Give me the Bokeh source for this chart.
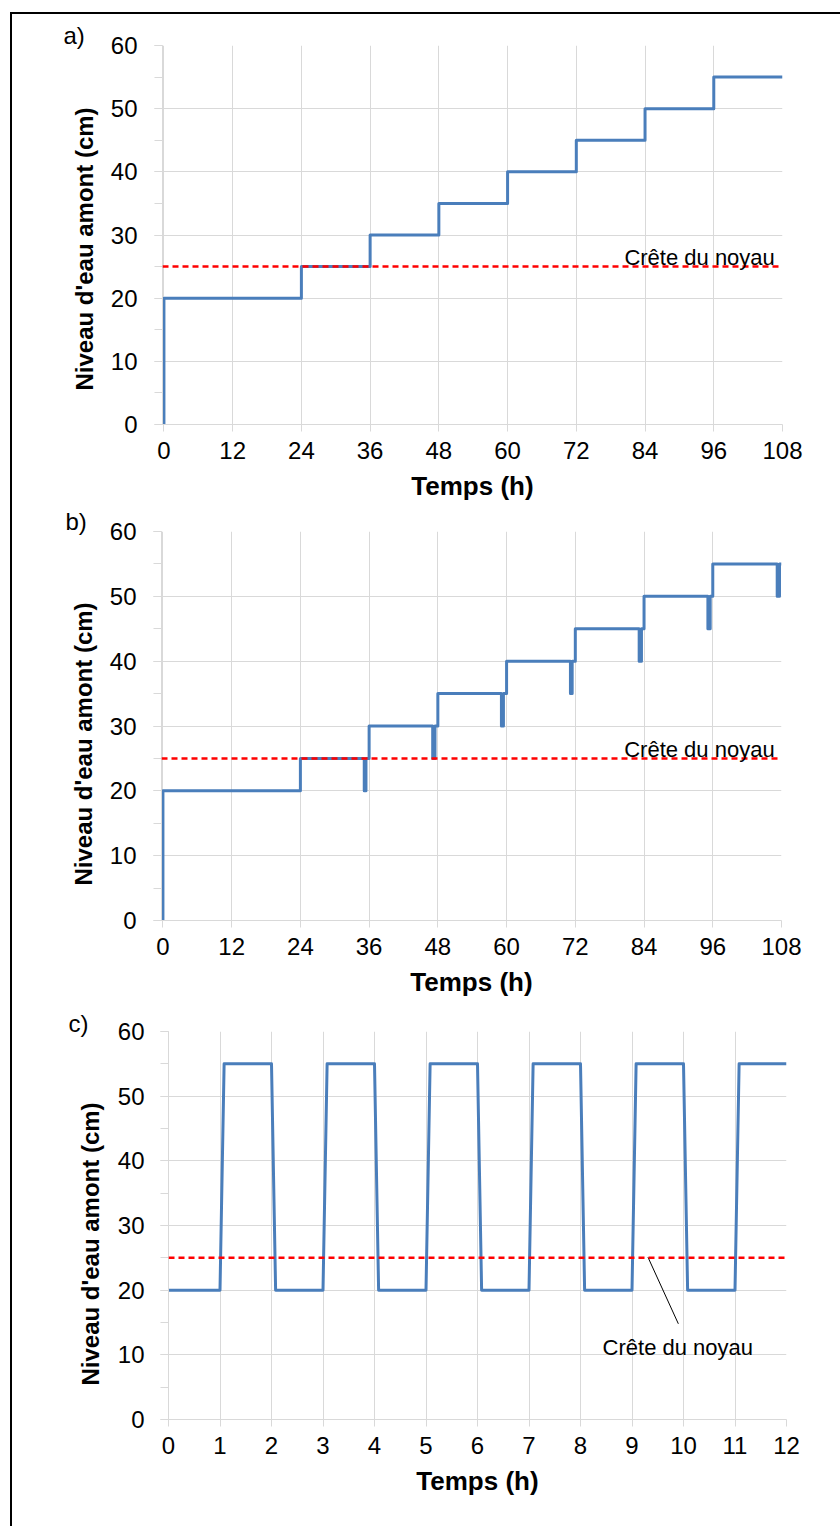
from bokeh.plotting import figure
from bokeh.models import Range1d, SingleIntervalTicker, Label, Span, Title
from bokeh.layouts import column
from bokeh.embed import file_html
from bokeh.resources import INLINE

# a) staged filling of the upstream reservoir
time_a = [0, 0, 24, 24, 36, 36, 48, 48, 60, 60, 72, 72, 84, 84, 96, 96, 108]
level_a = [0, 20, 20, 25, 25, 30, 30, 35, 35, 40, 40, 45, 45, 50, 50, 55, 55]

# b) staged filling with a rapid drawdown before each new stage
time_b = [0, 0, 24, 24,
          35.15, 35.15, 35.45, 35.45, 36, 36,
          47.1, 47.1, 47.5, 47.5, 48, 48,
          59.1, 59.1, 59.45, 59.45, 60, 60,
          71.15, 71.15, 71.45, 71.45, 72, 72,
          83.15, 83.15, 83.55, 83.55, 84, 84,
          95.15, 95.15, 95.55, 95.55, 96, 96,
          107.25, 107.25, 107.65, 107.65, 108]
level_b = [0, 20, 20, 25,
           25, 20, 20, 25, 25, 30,
           30, 25, 25, 30, 30, 35,
           35, 30, 30, 35, 35, 40,
           40, 35, 35, 40, 40, 45,
           45, 40, 40, 45, 45, 50,
           50, 45, 45, 50, 50, 55,
           55, 50, 50, 55, 55]

# c) cyclic loading between 20 and 55 cm
time_c = [0, 1, 1.08, 2, 2.08, 3, 3.08, 4, 4.08, 5, 5.08, 6, 6.08,
          7, 7.08, 8, 8.08, 9, 9.08, 10, 10.08, 11, 11.08, 12]
level_c = [20, 20, 55, 55, 20, 20, 55, 55, 20, 20, 55, 55, 20,
           20, 55, 55, 20, 20, 55, 55, 20, 20, 55, 55]

crest_level = 25
crest_text = "Crête du noyau"
y_title = "Niveau d'eau amont (cm)"
x_title = "Temps (h)"

BLUE = "#4a7ebb"
RED = "#ff0000"
GRID = "#d9d9d9"
FONT = "Liberation Sans"


def make_panel(height, left, right, top, bottom, x_start, x_end, x_step,
               ylab_standoff, ytitle_standoff, ytitle_offset,
               letter, letter_offset, letter_standoff):
    p = figure(width=828, height=height,
               x_range=Range1d(x_start, x_end), y_range=Range1d(0, 60),
               min_border_left=left, min_border_right=right,
               min_border_top=top, min_border_bottom=bottom,
               output_backend="svg", toolbar_location=None, tools="")
    p.frame_align = False
    p.outline_line_color = None
    p.background_fill_color = "white"
    p.border_fill_color = "white"

    xt = SingleIntervalTicker(interval=x_step, num_minor_ticks=0)
    yt = SingleIntervalTicker(interval=10, num_minor_ticks=2)
    p.xaxis.ticker = xt
    p.xgrid.ticker = xt
    p.yaxis.ticker = yt
    p.ygrid.ticker = yt
    p.grid.grid_line_color = GRID
    p.grid.grid_line_width = 1

    for ax in p.axis:
        ax.axis_line_color = GRID
        ax.major_tick_line_color = GRID
        ax.minor_tick_line_color = GRID
        ax.major_tick_in = 0
        ax.minor_tick_in = 0
        ax.major_label_text_font = FONT
        ax.major_label_text_font_size = "24px"
        ax.major_label_text_color = "black"
        ax.axis_label_text_font = FONT
        ax.axis_label_text_font_size = "26px"
        ax.axis_label_text_font_style = "bold"
        ax.axis_label_text_color = "black"

    p.xaxis.major_tick_out = 7
    p.xaxis.minor_tick_out = 0
    p.xaxis.major_label_standoff = 10
    p.xaxis.axis_label = x_title
    p.xaxis.axis_label_standoff = 9

    p.yaxis.major_tick_out = 8
    p.yaxis.minor_tick_out = 8
    p.yaxis.major_label_standoff = ylab_standoff

    # vertical axis title, starting a fixed distance above the plot bottom
    p.add_layout(Title(text=y_title, align="left", offset=ytitle_offset,
                       standoff=ytitle_standoff, text_font=FONT,
                       text_font_size="24px", text_font_style="bold",
                       text_color="black"), "left")

    # panel letter
    p.title.text = letter
    p.title.align = "left"
    p.title.offset = letter_offset
    p.title.standoff = letter_standoff
    p.title.text_font = FONT
    p.title.text_font_size = "24px"
    p.title.text_font_style = "normal"
    p.title.text_color = "black"
    return p


def add_crest(p):
    p.add_layout(Span(location=crest_level, dimension="width",
                      line_color=RED, line_width=2.5, line_dash="6 4"))


def add_crest_text(p, x, y, align):
    p.add_layout(Label(x=x, y=y, text=crest_text, text_font=FONT,
                       text_font_size="22px", text_color="black",
                       text_baseline="alphabetic", text_align=align))


# panel a
pa = make_panel(494, 150, 58, 31, 84, -0.25, 108, 12, 17, 19, 34,
                "a)", -99, -6)
pa.line(time_a, level_a, line_color=BLUE, line_width=3, line_join="round")
add_crest(pa)
add_crest_text(pa, 106.66, 26.5, "right")

# panel b
pb = make_panel(496, 149, 59, 23, 84, -0.25, 108, 12, 17, 19, 35,
                "b)", -96, -6)
pb.line(time_b, level_b, line_color=BLUE, line_width=3, line_join="round")
add_crest(pb)
add_crest_text(pb, 106.8, 26.4, "right")

# panel c
pc = make_panel(522, 156, 54, 27, 107, 0, 12, 1, 16, 22, 34,
                "c)", -100, -10)
pc.line(time_c, level_c, line_color=BLUE, line_width=3, line_join="round")
add_crest(pc)
pc.line([9.31, 9.9], [25.1, 14.8], line_color="black", line_width=1)
add_crest_text(pc, 9.89, 11.2, "center")

layout = column(pa, pb, pc, spacing=0,
                styles={"margin-left": "10px", "margin-top": "12px",
                        "border-left": "2px solid black",
                        "border-top": "2px solid black"})

open("out.html", "w").write(file_html(layout, INLINE))
